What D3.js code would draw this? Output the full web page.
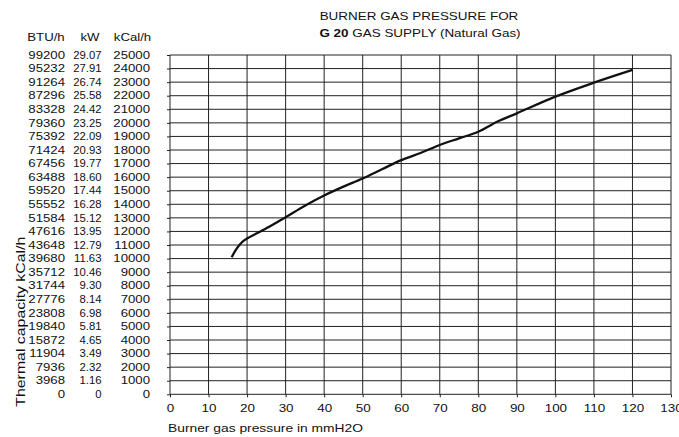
<!DOCTYPE html>
<html><head><meta charset="utf-8">
<script src="https://cdn.jsdelivr.net/npm/d3@7"></script>
<style>body{margin:0;background:#fff}svg{display:block}text{font-family:"Liberation Sans",Arial,sans-serif;fill:#111}</style>
</head><body><svg id="c" width="679" height="437"></svg>
<script>
// ---- data ----
const pressure = [16, 17, 18, 19, 20, 25, 30, 35, 40, 45, 50, 55, 60, 65, 70, 75, 80, 85, 90, 100, 110, 120];
const capacity = [10100, 10600, 11000, 11280, 11480, 12230, 13050, 13900, 14650, 15300, 15900, 16580, 17250, 17780, 18370, 18860, 19350, 20100, 20700, 21930, 22960, 23900];
const kcalTicks = [0,1000,2000,3000,4000,5000,6000,7000,8000,9000,10000,11000,12000,13000,14000,15000,16000,17000,18000,19000,20000,21000,22000,23000,24000,25000];
const btuLabels = ["0","3968","7936","11904","15872","19840","23808","27776","31744","35712","39680","43648","47616","51584","55552","59520","63488","67456","71424","75392","79360","83328","87296","91264","95232","99200"];
const kwLabels = ["0","1.16","2.32","3.49","4.65","5.81","6.98","8.14","9.30","10.46","11.63","12.79","13.95","15.12","16.28","17.44","18.60","19.77","20.93","22.09","23.25","24.42","25.58","26.74","27.91","29.07"];
const xTicks = [0,10,20,30,40,50,60,70,80,90,100,110,120,130];
const headers = ["BTU/h","kW","kCal/h"];

const svg = d3.select("#c");
const x = d3.scaleLinear().domain([0,130]).range([170,671]);
const y = d3.scaleLinear().domain([0,25000]).range([394.3,55]);

function stretch(sel, f){
  sel.each(function(){
    const w = this.getComputedTextLength();
    d3.select(this).attr("textLength", w*f).attr("lengthAdjust","spacingAndGlyphs");
  });
}
const SX = 1.28;

// grid
const grid = svg.append("g").attr("stroke","#222").attr("stroke-width",1);
grid.selectAll("line.v").data(xTicks).join("line")
  .attr("x1",d=>x(d)).attr("x2",d=>x(d)).attr("y1",y(25000)).attr("y2",y(0));
grid.selectAll("line.h").data(kcalTicks).join("line")
  .attr("y1",d=>y(d)).attr("y2",d=>y(d)).attr("x1",x(0)).attr("x2",x(130));

// axes ticks
const ax = svg.append("g").attr("transform",`translate(0,${y(0)})`)
  .call(d3.axisBottom(x).tickValues(xTicks).tickSize(3).tickPadding(7).tickFormat(d3.format("d")));
ax.select(".domain").remove();
ax.selectAll("line").attr("stroke","#222");
ax.selectAll("text").attr("font-size","10.5px").attr("font-family","Liberation Sans").attr("fill","#111");
stretch(ax.selectAll("text"), SX);

const ay = svg.append("g").attr("transform",`translate(${x(0)},0)`)
  .call(d3.axisLeft(y).tickValues(kcalTicks).tickSize(3).tickFormat(""));
ay.select(".domain").remove();
ay.selectAll("line").attr("stroke","#222");

// label columns
const cols = [
  {labels: btuLabels, x: 65, f: SX},
  {labels: kwLabels, x: 101.5, f: 1.1},
  {labels: kcalTicks.map(String), x: 150, f: SX}
];
cols.forEach(c=>{
  const t = svg.append("g").selectAll("text").data(c.labels).join("text")
    .attr("x", c.x).attr("y",(d,i)=>y(kcalTicks[i])).attr("dy","0.36em")
    .attr("text-anchor","end").attr("font-size","10.3px").text(d=>d);
  stretch(t, c.f);
});
const hx = [46, 90, 132.5];
const ht = svg.append("g").selectAll("text").data(headers).join("text")
  .attr("x",(d,i)=>hx[i]).attr("y",41).attr("text-anchor","middle").attr("font-size","10.3px").text(d=>d);
stretch(ht, SX);

// curve
svg.append("path").datum(pressure.map((p,i)=>[p,capacity[i]]))
  .attr("fill","none").attr("stroke","#111").attr("stroke-width",2.3).attr("stroke-linejoin","round")
  .attr("d", d3.line().x(d=>x(d[0])).y(d=>y(d[1])).curve(d3.curveCatmullRom.alpha(0.5)));

// titles
const t1 = svg.append("text").attr("x",419).attr("y",20).attr("text-anchor","middle")
  .attr("font-size","10.5px").text("BURNER GAS PRESSURE FOR");
stretch(t1, SX);
const t2 = svg.append("text").attr("x",420).attr("y",37).attr("text-anchor","middle").attr("font-size","10.5px");
t2.append("tspan").attr("font-weight","bold").text("G 20");
t2.append("tspan").text(" GAS SUPPLY (Natural Gas)");
stretch(t2, SX);

const xt = svg.append("text").attr("x",168).attr("y",432).attr("font-size","11px").text("Burner gas pressure in mmH2O");
xt.attr("textLength",195).attr("lengthAdjust","spacingAndGlyphs");

const yt = svg.append("text").attr("transform","translate(25,321.7) rotate(-90)").attr("text-anchor","middle")
  .attr("font-size","13.5px").text("Thermal capacity kCal/h");
yt.attr("textLength",170).attr("lengthAdjust","spacingAndGlyphs");
</script></body></html>
